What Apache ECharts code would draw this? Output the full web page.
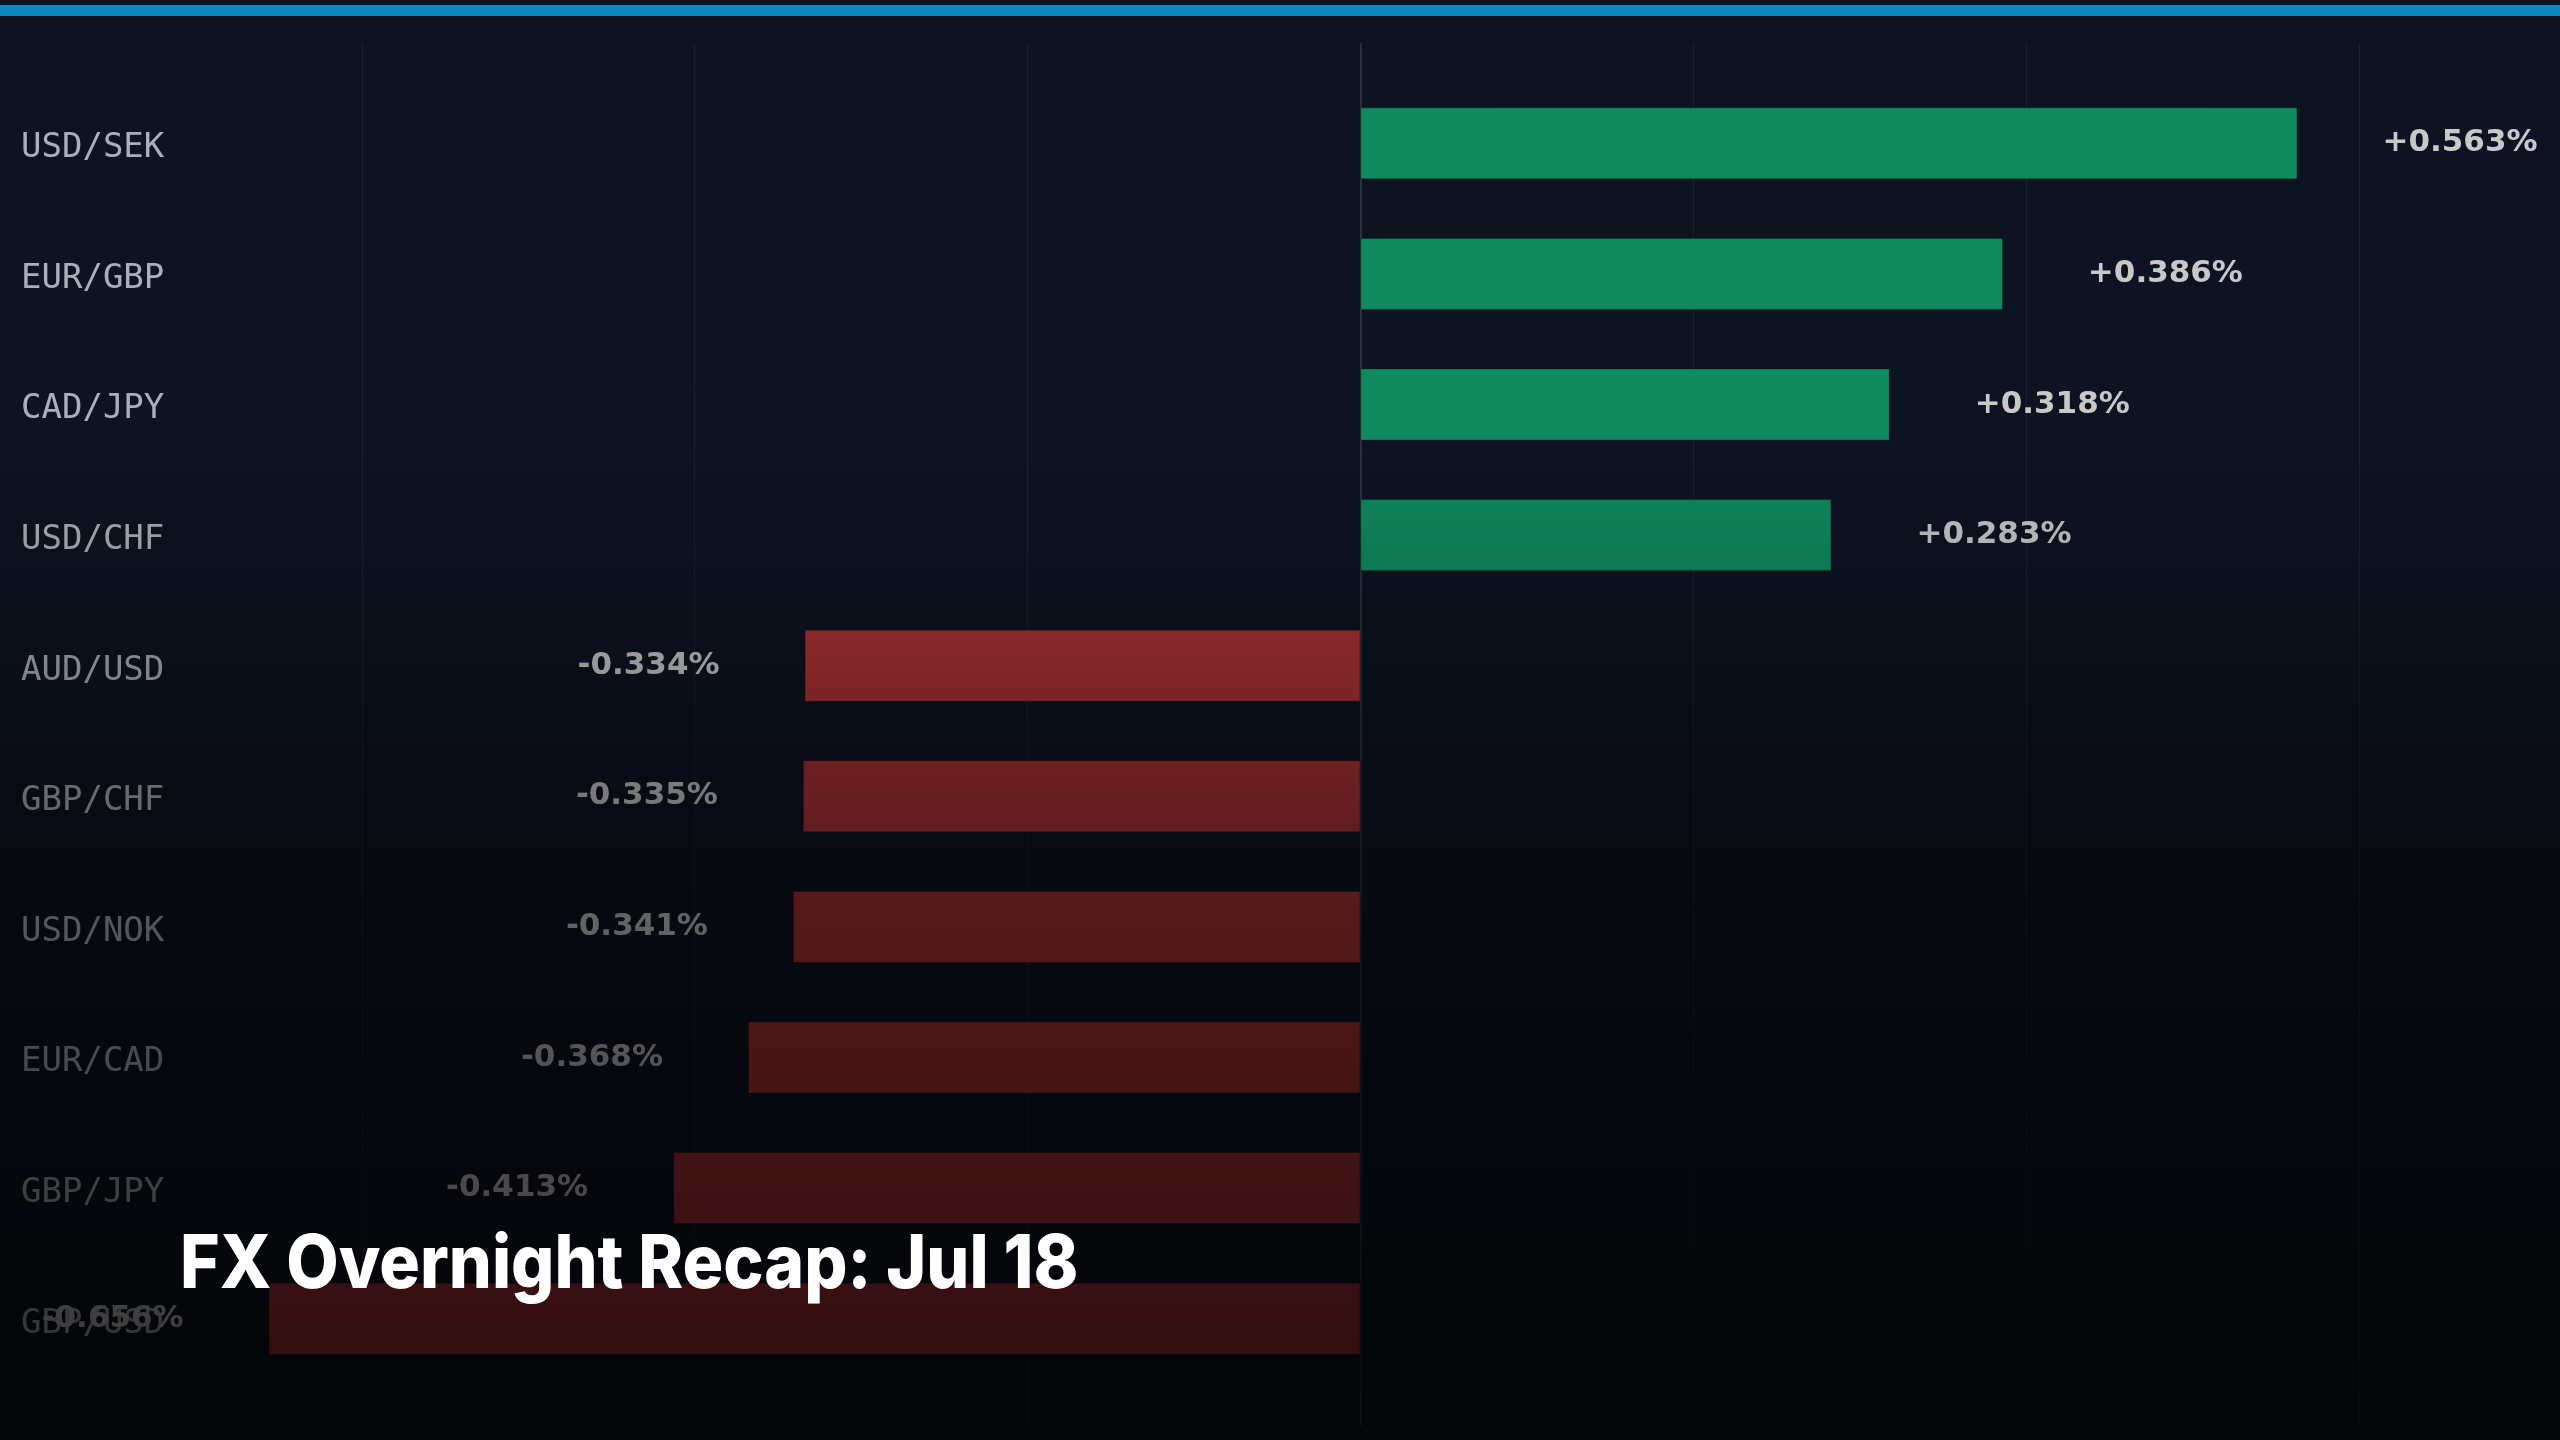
<!DOCTYPE html>
<html>
<head>
<meta charset="utf-8">
<script src="https://cdn.jsdelivr.net/npm/echarts@6/dist/echarts.min.js"></script>
<style>
  html, body { margin: 0; padding: 0; background: #0d1321; }
  #chart { width: 2560px; height: 1440px; }
</style>
</head>
<body>
<div id="chart"></div>
<script>
// currency pairs, top to bottom
var pairs = ['USD/SEK', 'EUR/GBP', 'CAD/JPY', 'USD/CHF', 'AUD/USD',
             'GBP/CHF', 'USD/NOK', 'EUR/CAD', 'GBP/JPY', 'GBP/USD'];
// overnight change in percent
var changes = [0.563, 0.386, 0.318, 0.283, -0.334,
               -0.335, -0.341, -0.368, -0.413, -0.656];
var titleText = 'FX Overnight Recap: Jul 18';

var up = '#0f8a5f';
var down = '#ac3236';

var barData = changes.map(function (v) {
    return {
        value: v,
        label: { position: v >= 0 ? 'right' : 'left' }
    };
});

var chart = echarts.init(document.getElementById('chart'));
var option = {
    backgroundColor: '#0d1321',
    animation: false,
    grid: [
        {left: 29, right: 201, top: 78, height: 1306},
        {left: 29, right: 201, top: 44, bottom: 15}   // gridlines + zero line
    ],
    xAxis: [
        {
            gridIndex: 0, type: 'value', min: -0.8, max: 0.6, interval: 0.2,
            axisLabel: {show: false}, axisLine: {show: false},
            axisTick: {show: false}, splitLine: {show: false}
        },
        {
            gridIndex: 1, type: 'value', min: -0.8, max: 0.6, interval: 0.2,
            axisLabel: {show: false}, axisLine: {show: false}, axisTick: {show: false},
            splitLine: {
                show: true, showMinLine: false,
                lineStyle: {color: '#1a2030', width: 1}
            }
        }
    ],
    yAxis: [
        {
            gridIndex: 0, type: 'category', inverse: true, data: pairs,
            axisLine: {show: false, onZero: false},
            axisTick: {show: false},
            axisLabel: {
                interval: 0,
                margin: 8,
                align: 'left',
                formatter: '{p|{value}}',
                rich: {
                    p: {
                        padding: [10, 0, 0, 0],
                        color: '#aab0ba',
                        fontFamily: 'DejaVu Sans Mono',
                        fontSize: 34
                    }
                }
            }
        },
        {
            gridIndex: 1, type: 'value', min: 0, max: 1,
            axisLabel: {show: false}, axisTick: {show: false},
            splitLine: {show: false},
            axisLine: {show: true, onZero: true, lineStyle: {color: '#2a3040', width: 2}}
        }
    ],
    series: [{
        type: 'bar',
        xAxisIndex: 0,
        yAxisIndex: 0,
        barWidth: 72,
        data: barData,
        itemStyle: {
            color: function (p) { return p.value >= 0 ? up : down; },
            borderColor: 'rgba(0,0,0,0.25)',
            borderWidth: 1
        },
        label: {
            show: true,
            distance: 85,
            padding: [3, 0, 0, 0],
            color: '#c8c8c8',
            fontFamily: 'DejaVu Sans',
            fontWeight: 'bold',
            fontSize: 31,
            formatter: function (p) {
                return (p.value >= 0 ? '+' : '') + p.value.toFixed(3) + '%';
            }
        }
    }],
    graphic: [
        {
            // dark fade towards the bottom
            type: 'rect', silent: true, z: 100,
            shape: {x: 0, y: 0, width: 2560, height: 1440},
            style: {
                fill: new echarts.graphic.LinearGradient(0, 0, 0, 1, [
                    {offset: 0.30, color: 'rgba(0,0,0,0)'},
                    {offset: 0.44, color: 'rgba(0,0,0,0.2)'},
                    {offset: 0.53, color: 'rgba(0,0,0,0.37)'},
                    {offset: 0.62, color: 'rgba(0,0,0,0.49)'},
                    {offset: 0.76, color: 'rgba(0,0,0,0.6)'},
                    {offset: 0.94, color: 'rgba(0,0,0,0.7)'},
                    {offset: 1.00, color: 'rgba(0,0,0,0.72)'}
                ])
            }
        },
        {
            type: 'rect', silent: true, z: 200,
            shape: {x: 0, y: 5, width: 2560, height: 11},
            style: {fill: '#0a88c2'}
        },
        {
            // headline, a little condensed
            type: 'text', silent: true, z: 300,
            x: 180, y: 1266,
            scaleX: 0.917,
            style: {
                text: titleText,
                fill: '#ffffff',
                font: '800 74px Inter',
                textAlign: 'left',
                textVerticalAlign: 'middle'
            }
        }
    ]
};
chart.setOption(option);
</script>
</body>
</html>
